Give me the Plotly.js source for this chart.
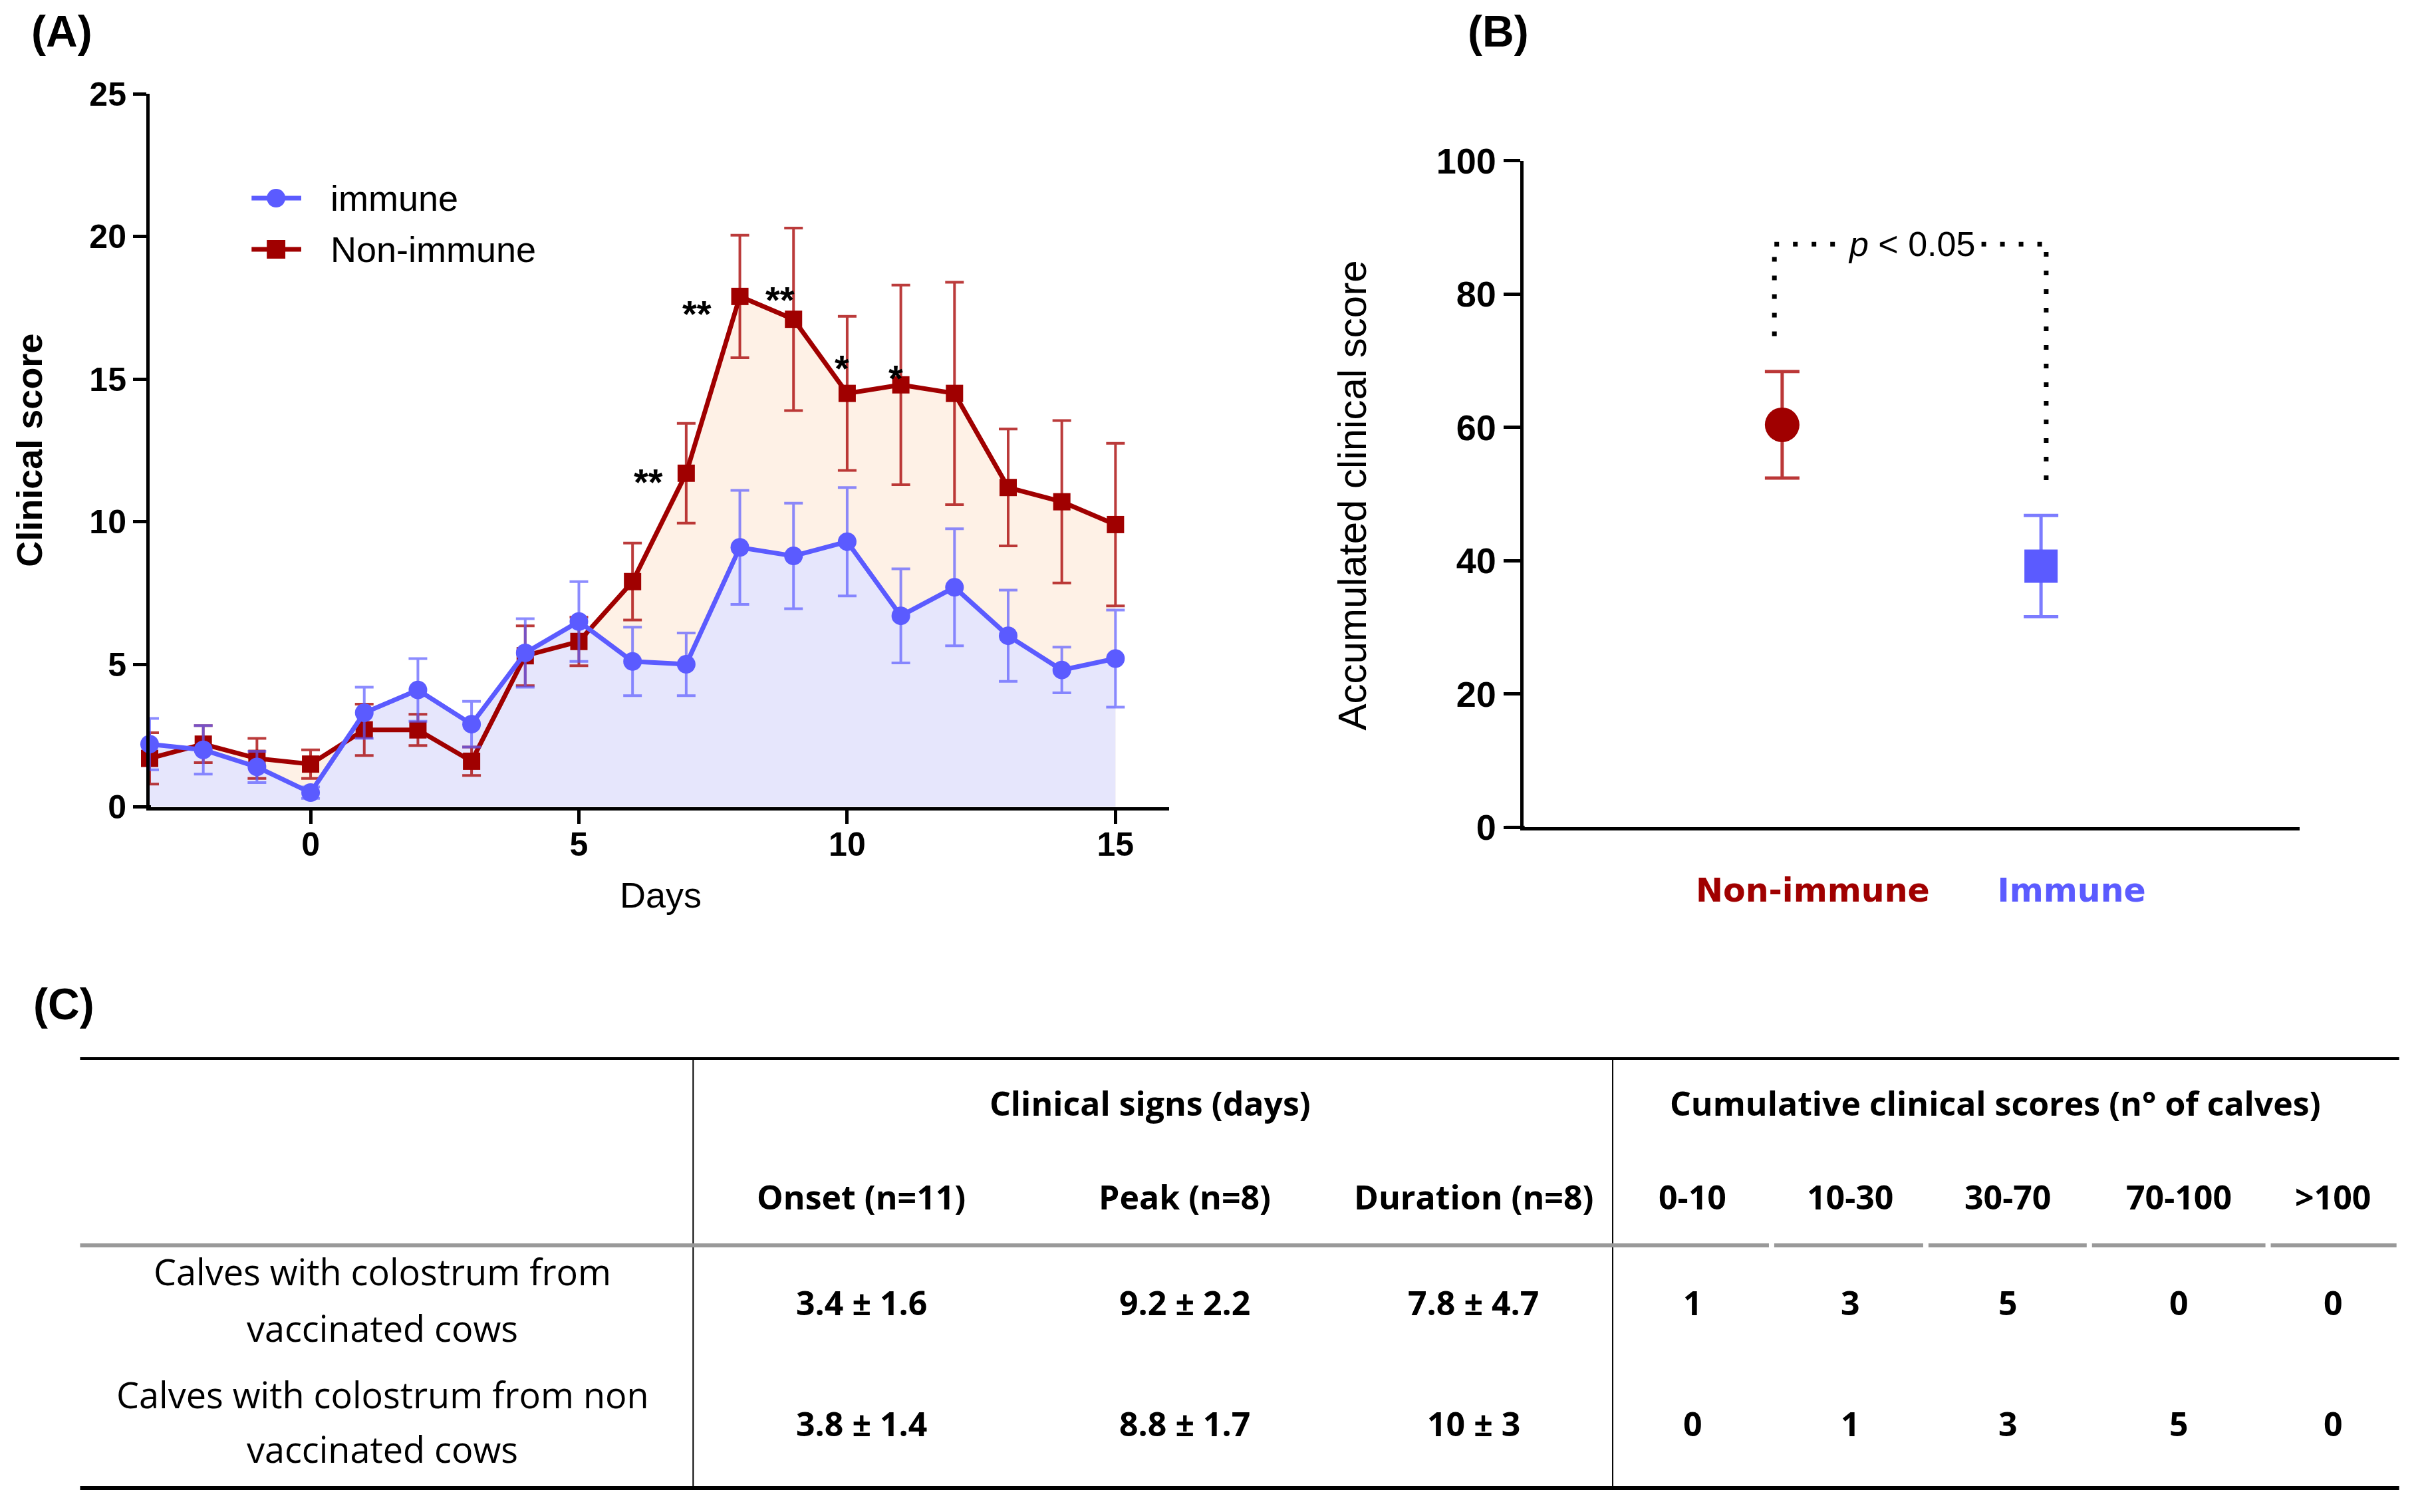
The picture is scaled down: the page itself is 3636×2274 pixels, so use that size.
<!DOCTYPE html>
<html>
<head>
<meta charset="utf-8">
<script src="https://cdn.plot.ly/plotly-3.0.1.min.js"></script>
<style>html,body{margin:0;padding:0;background:#fff;}#chart{width:3636px;height:2274px;}</style>
</head>
<body>
<div id="chart"></div>
<script>
// ---------------- Data ----------------
const days = [-3, -2, -1, 0, 1, 2, 3, 4, 5, 6, 7, 8, 9, 10, 11, 12, 13, 14, 15];
const immune = [2.2, 2.0, 1.4, 0.5, 3.3, 4.1, 2.9, 5.4, 6.5, 5.1, 5.0, 9.1, 8.8, 9.3, 6.7, 7.7, 6.0, 4.8, 5.2];
const immuneErr = [0.9, 0.85, 0.55, 0.2, 0.9, 1.1, 0.8, 1.2, 1.4, 1.2, 1.1, 2.0, 1.85, 1.9, 1.65, 2.05, 1.6, 0.8, 1.7];
const nonImmune = [1.7, 2.2, 1.7, 1.5, 2.7, 2.7, 1.6, 5.3, 5.8, 7.9, 11.7, 17.9, 17.1, 14.5, 14.8, 14.5, 11.2, 10.7, 9.9];
const nonImmuneErr = [0.9, 0.65, 0.7, 0.5, 0.9, 0.55, 0.5, 1.05, 0.85, 1.35, 1.75, 2.15, 3.2, 2.7, 3.5, 3.9, 2.05, 2.85, 2.85];
const seriesNames = ['immune', 'Non-immune'];
const starDays = [6.3, 7.2, 8.75, 9.9, 10.9];
const starValues = [11.4, 17.3, 17.8, 15.4, 15.05];
const starLabels = ['**', '**', '**', '*', '*'];

const groupsB = ['Non-immune', 'Immune'];
const accumulated = [60.4, 39.2];
const accumulatedErr = [8.0, 7.6];
const pText = '<i>p</i> &lt; 0.05';

const tableGroupHeaders = ['Clinical signs (days)', 'Cumulative clinical scores (n° of calves)'];
const tableColumns = ['Onset (n=11)', 'Peak (n=8)', 'Duration (n=8)', '0-10', '10-30', '30-70', '70-100', '&gt;100'];
const tableRowLabels = [['Calves with colostrum from', 'vaccinated cows'], ['Calves with colostrum from non', 'vaccinated cows']];
const rowVaccinated = ['3.4 ± 1.6', '9.2 ± 2.2', '7.8 ± 4.7', '1', '3', '5', '0', '0'];
const rowNonVaccinated = ['3.8 ± 1.4', '8.8 ± 1.7', '10 ± 3', '0', '1', '3', '5', '0'];
const tableRows = [rowVaccinated, rowNonVaccinated];

// ---------------- Styling ----------------
const W = 3636, H = 2274, S = 0.9955;
const RED = '#A00000', BLUE = '#5B5BFF';
const px = v => v * S / W;
const py = v => 1 - v / H;
const pyS = v => 1 - v * S / H;

const traces = [
  {x: days, y: nonImmune, xaxis: 'x', yaxis: 'y', mode: 'none', fill: 'tozeroy', fillcolor: 'rgb(254,241,230)', showlegend: false, hoverinfo: 'skip'},
  {x: days, y: immune, xaxis: 'x', yaxis: 'y', mode: 'none', fill: 'tozeroy', fillcolor: 'rgb(230,230,252)', showlegend: false, hoverinfo: 'skip'},
  {x: days, y: nonImmune, xaxis: 'x', yaxis: 'y', mode: 'lines+markers', name: seriesNames[1], showlegend: false,
   line: {color: RED, width: 7}, marker: {symbol: 'square', size: 26, color: RED}, cliponaxis: false,
   error_y: {type: 'data', array: nonImmuneErr, visible: true, color: 'rgba(170,10,10,0.8)', thickness: 4, width: 14}},
  {x: days, y: immune, xaxis: 'x', yaxis: 'y', mode: 'lines+markers', name: seriesNames[0], showlegend: false,
   line: {color: BLUE, width: 7}, marker: {symbol: 'circle', size: 28, color: BLUE}, cliponaxis: false,
   error_y: {type: 'data', array: immuneErr, visible: true, color: 'rgba(91,91,255,0.7)', thickness: 4, width: 14}},
  {x: [groupsB[0]], y: [accumulated[0]], xaxis: 'x2', yaxis: 'y2', mode: 'markers', showlegend: false, name: groupsB[0],
   marker: {symbol: 'circle', size: 52, color: RED},
   error_y: {type: 'data', array: [accumulatedErr[0]], visible: true, color: 'rgba(175,20,20,0.85)', thickness: 5, width: 26}},
  {x: [groupsB[1]], y: [accumulated[1]], xaxis: 'x2', yaxis: 'y2', mode: 'markers', showlegend: false, name: groupsB[1],
   marker: {symbol: 'square', size: 50, color: BLUE},
   error_y: {type: 'data', array: [accumulatedErr[1]], visible: true, color: 'rgba(91,91,255,0.8)', thickness: 5, width: 26}}
];

const annotations = [];
const shapes = [];

// panel labels
[['(A)', 93, 47], ['(B)', 2263, 47], ['(C)', 96, 1510]].forEach(([t, x, y]) => {
  annotations.push({text: t, xref: 'paper', yref: 'paper', x: px(x), y: py(y), showarrow: false,
    xanchor: 'center', yanchor: 'middle', font: {size: 66, weight: 'bold', color: '#000'}});
});

// axis titles
annotations.push({text: 'Clinical score', xref: 'paper', yref: 'paper', x: px(44), y: pyS(680), textangle: -90,
  showarrow: false, xanchor: 'center', yanchor: 'middle', font: {size: 54, weight: 'bold'}});
annotations.push({text: 'Days', xref: 'paper', yref: 'paper', x: px(998), y: py(1346),
  showarrow: false, xanchor: 'center', yanchor: 'middle', font: {size: 54}});
annotations.push({text: 'Accumulated clinical score', xref: 'paper', yref: 'paper', x: px(2043), y: pyS(748), textangle: -90,
  showarrow: false, xanchor: 'center', yanchor: 'middle', font: {size: 60}});

// legend (panel A)
const legendRows = [
  {name: seriesNames[0], color: BLUE, shape: 'circle', y: 298},
  {name: seriesNames[1], color: RED, shape: 'rect', y: 375}
];
legendRows.forEach(r => {
  shapes.push({type: 'line', xref: 'paper', yref: 'paper', x0: px(380), x1: px(455), y0: py(r.y), y1: py(r.y),
    line: {color: r.color, width: 7}});
  const rad = 14;
  shapes.push({type: r.shape, xref: 'paper', yref: 'paper', x0: px(417 - rad), x1: px(417 + rad),
    y0: py(r.y + rad), y1: py(r.y - rad), fillcolor: r.color, line: {width: 0}});
  annotations.push({text: r.name, xref: 'paper', yref: 'paper', x: px(497), y: py(r.y), showarrow: false,
    xanchor: 'left', yanchor: 'middle', font: {size: 54, color: '#000'}});
});

// significance stars
starDays.forEach((d, i) => {
  annotations.push({text: starLabels[i], x: d, y: starValues[i], xref: 'x', yref: 'y', showarrow: false,
    xanchor: 'center', yanchor: 'middle', font: {size: 56, weight: 'bold'}});
});

// bracket panel B
const bracketTop = 87.5, bracketGap = 5.3;
const dotLine = {color: '#000', width: 7, dash: '7px,21px'};
shapes.push({type: 'line', xref: 'x2', yref: 'y2', x0: -0.03, x1: -0.03, y0: accumulated[0] + accumulatedErr[0] + bracketGap, y1: bracketTop, line: dotLine});
shapes.push({type: 'line', xref: 'x2', yref: 'y2', x0: 1.02, x1: 1.02, y0: accumulated[1] + accumulatedErr[1] + bracketGap, y1: bracketTop, line: dotLine});
shapes.push({type: 'line', xref: 'x2', yref: 'y2', x0: -0.03, x1: 0.23, y0: bracketTop, y1: bracketTop, line: dotLine});
shapes.push({type: 'line', xref: 'x2', yref: 'y2', x0: 0.77, x1: 1.02, y0: bracketTop, y1: bracketTop, line: dotLine});
annotations.push({text: pText, x: 0.5, y: bracketTop, xref: 'x2', yref: 'y2', showarrow: false,
  xanchor: 'center', yanchor: 'middle', font: {size: 52}});

// ---------------- Table (C) ----------------
const TF = 'Open Sans, Liberation Sans, sans-serif';
const colX = [1301, 1790, 2226, 2557, 2795, 3033, 3291, 3524];
const groupX = [1737, 3014];
const rowLabelX = 578;
const rowValY = [1959, 2141];
const rowLabelY = [[1912, 1997], [2097, 2179]];
tableGroupHeaders.forEach((t, i) => annotations.push({text: t, xref: 'paper', yref: 'paper', x: px(groupX[i]), y: py(1659),
  showarrow: false, xanchor: 'center', yanchor: 'middle', font: {family: TF, size: 50, weight: 'bold'}}));
tableColumns.forEach((t, i) => annotations.push({text: t, xref: 'paper', yref: 'paper', x: px(colX[i]), y: py(1800),
  showarrow: false, xanchor: 'center', yanchor: 'middle', font: {family: TF, size: 50, weight: 'bold'}}));
tableRows.forEach((row, r) => {
  row.forEach((t, i) => annotations.push({text: t, xref: 'paper', yref: 'paper', x: px(colX[i]), y: py(rowValY[r]),
    showarrow: false, xanchor: 'center', yanchor: 'middle', font: {family: TF, size: 50, weight: 'bold'}}));
  tableRowLabels[r].forEach((t, k) => annotations.push({text: t, xref: 'paper', yref: 'paper', x: px(rowLabelX), y: py(rowLabelY[r][k]),
    showarrow: false, xanchor: 'center', yanchor: 'middle', font: {family: TF, size: 54}}));
});
const pline = (x0, y0, x1, y1, color, width) => shapes.push({type: 'line', xref: 'paper', yref: 'paper',
  x0: px(x0), x1: px(x1), y0: py(y0), y1: py(y1), line: {color: color, width: width}, layer: 'above'});
pline(121, 1592, 3624, 1592, '#000', 4);
pline(1047, 1592, 1047, 2238, '#000', 2);
pline(2436, 1592, 2436, 2238, '#000', 2);
[[121, 2672], [2680, 2905], [2913, 3152], [3160, 3422], [3430, 3620]].forEach(([a, b]) => pline(a, 1873, b, 1873, '#999', 6));
pline(121, 2238, 3624, 2238, '#000', 6);

// axis geometry (px)
const A = {l: 226, r: 1766, t: 142, b: 1219};
const B = {l: 2301, r: 3474, t: 243, b: 1250};
// x-axis lines extend left past the y-axis (GraphPad style)
shapes.push({type: 'line', xref: 'paper', yref: 'paper', x0: px(A.l - 22), x1: px(A.l + 2), y0: pyS(A.b), y1: pyS(A.b), line: {color: '#000', width: 5}});
shapes.push({type: 'line', xref: 'paper', yref: 'paper', x0: px(B.l - 27), x1: px(B.l + 2), y0: pyS(B.b), y1: pyS(B.b), line: {color: '#000', width: 5}});

// ---------------- Layout ----------------
const axisCommon = {showline: true, linewidth: 5, linecolor: '#000', showgrid: false, zeroline: false,
  ticks: 'outside', tickwidth: 5, tickcolor: '#000', tickfont: {size: 50, weight: 'bold', color: '#000'}};

const layout = {
  width: W, height: H,
  margin: {l: 0, r: 0, t: 0, b: 0},
  paper_bgcolor: '#fff', plot_bgcolor: 'rgba(0,0,0,0)',
  font: {family: 'Liberation Sans, Arial, sans-serif', color: '#000'},
  showlegend: false,
  xaxis: Object.assign({}, axisCommon, {domain: [px(A.l), px(A.r)], range: [-3, 16], tickvals: [0, 5, 10, 15], ticklen: 20,
    ticklabelstandoff: -12, anchor: 'y'}),
  yaxis: Object.assign({}, axisCommon, {domain: [pyS(A.b), pyS(A.t)], range: [0, 25], tickvals: [0, 5, 10, 15, 20, 25], ticklen: 20, anchor: 'x'}),
  xaxis2: Object.assign({}, axisCommon, {domain: [px(B.l), px(B.r)], type: 'category', categoryarray: groupsB, range: [-1, 2],
    ticks: '', tickvals: groupsB,
    ticktext: [`<span style="color:${RED}">${groupsB[0]}</span>`, `<span style="color:${BLUE}">${groupsB[1]}</span>`],
    tickfont: {family: 'DejaVu Sans, sans-serif', size: 49, weight: 'bold'}, ticklabelstandoff: 48, ticklabelshift: 46, anchor: 'y2'}),
  yaxis2: Object.assign({}, axisCommon, {domain: [pyS(B.b), pyS(B.t)], range: [0, 100], tickvals: [0, 20, 40, 60, 80, 100], ticklen: 25,
    tickfont: {size: 54, weight: 'bold', color: '#000'}, anchor: 'x2'}),
  annotations: annotations,
  shapes: shapes
};

Plotly.newPlot('chart', traces, layout, {displayModeBar: false, staticPlot: true});
</script>
</body>
</html>
